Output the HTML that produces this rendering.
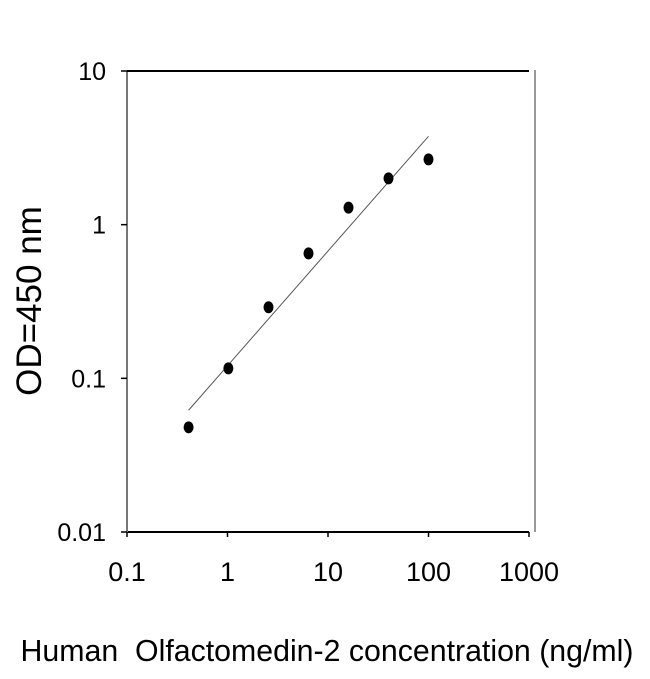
<!DOCTYPE html>
<html><head><meta charset="utf-8"><style>
body{margin:0;background:#fff;}
svg text{font-family:"Liberation Sans",Arial,sans-serif;fill:#000;}
.yl{font-size:25px;}
.xl{font-size:27px;}
</style></head><body>
<svg id="chart" width="650" height="674" xmlns="http://www.w3.org/2000/svg">
<g id="axes"></g><g id="marks"></g>
<text transform="translate(41,301) rotate(-90)" text-anchor="middle" style="font-size:35px">OD=450 nm</text>
<text x="327" y="661" text-anchor="middle" style="font-size:30.3px" xml:space="preserve">Human  Olfactomedin-2 concentration (ng/ml)</text>
</svg>
<script>
const xTicks=[0.1,1,10,100,1000];
const xTickLabels=["0.1","1","10","100","1000"];
const yTicks=[0.01,0.1,1,10];
const yTickLabels=["0.01","0.1","1","10"];
const conc=[0.41,1.02,2.56,6.4,16,40,100];
const od=[0.048,0.116,0.29,0.65,1.29,2.0,2.66];
const fitX=[0.41,100];
const fitY=[0.062,3.76];
const NS="http://www.w3.org/2000/svg";
const L=127,R=529,T=71,B=532;
function xs(v){return L+(Math.log10(v)+1)/4*(R-L);}
function ys(v){return B-(Math.log10(v)+2)/3*(B-T);}
function mk(tag,attrs,parent){const e=document.createElementNS(NS,tag);for(const k in attrs)e.setAttribute(k,attrs[k]);parent.appendChild(e);return e;}
const ax=document.getElementById('axes'),mg=document.getElementById('marks');
let e;
e=mk('line',{x1:L,y1:B,x2:R,y2:B,stroke:'#000','stroke-width':2},ax);


e=mk('line',{x1:L,y1:T,x2:L,y2:B,stroke:'#777','stroke-width':2},ax);


e=mk('line',{x1:L,y1:T,x2:R,y2:T,stroke:'#000','stroke-width':2},ax);


e=mk('line',{x1:535,y1:70,x2:535,y2:B,stroke:'#999','stroke-width':2},ax);


xTicks.forEach((v,i)=>{
 const x=xs(v);
 e=mk('line',{x1:x,y1:B,x2:x,y2:B+5,stroke:'#000','stroke-width':1.5},ax);
 
 
 e=mk('text',{x:x,y:B+49,'text-anchor':'middle','class':'xl'},ax);
 e.textContent=xTickLabels[i];
 
 
});
yTicks.forEach((v,i)=>{
 const y=ys(v);
 e=mk('line',{x1:L-6,y1:y,x2:L,y2:y,stroke:'#000','stroke-width':1.5},ax);
 
 
 e=mk('text',{x:L-21,y:y+9,'text-anchor':'end','class':'yl'},ax);
 e.textContent=yTickLabels[i];
 
 
});
e=mk('line',{x1:xs(fitX[0]),y1:ys(fitY[0]),x2:xs(fitX[1]),y2:ys(fitY[1]),stroke:'#555','stroke-width':1},mg);


conc.forEach((c,i)=>{
 e=mk('ellipse',{cx:xs(c),cy:ys(od[i]),rx:5,ry:6,fill:'#000'},mg);
 
 
});
</script>
</body></html>
